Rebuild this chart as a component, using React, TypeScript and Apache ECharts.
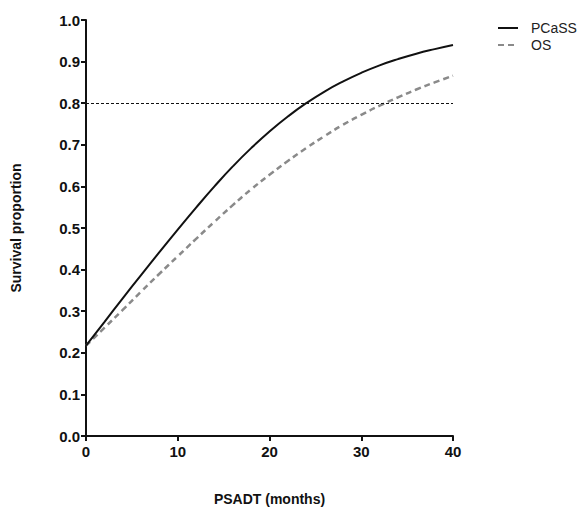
import React, { useEffect, useRef } from "react";
import * as echarts from "echarts";

const months = [0, 2, 4, 6, 8, 10, 12, 14, 16, 18, 20, 22, 24, 26, 28, 30, 32, 34, 36, 38, 40];
const pcass = [0.217, 0.274, 0.331, 0.387, 0.442, 0.496, 0.549, 0.6, 0.648, 0.692, 0.732, 0.768, 0.8, 0.828, 0.852, 0.873, 0.891, 0.906, 0.919, 0.93, 0.94];
const os = [0.217, 0.26, 0.303, 0.347, 0.39, 0.432, 0.474, 0.515, 0.555, 0.593, 0.628, 0.661, 0.692, 0.721, 0.748, 0.772, 0.794, 0.814, 0.833, 0.85, 0.866];
const refLevel = 0.8;
const seriesNames = ["PCaSS", "OS"];
const xTitle = "PSADT (months)";
const yTitle = "Survival proportion";

const FONT = "Liberation Sans, Arial, sans-serif";

export default function App() {
  const ref = useRef<HTMLDivElement>(null);
  useEffect(() => {
    if (!ref.current) return;
    const chart = echarts.init(ref.current, undefined, { renderer: "svg" });
    chart.setOption({
      animation: false,
      textStyle: { fontFamily: FONT },
      grid: { left: 86, right: 131, top: 20, bottom: 75 },
      legend: {
        orient: "vertical",
        left: 497,
        top: 16,
        padding: [5, 5, 5, 0],
        itemWidth: 20,
        itemHeight: 10,
        itemGap: 3,
        data: seriesNames,
        itemStyle: { opacity: 0 },
        textStyle: { fontFamily: FONT, fontSize: 14, color: "#222", padding: [0, 0, 0, 8] },
      },
      xAxis: {
        type: "value",
        min: 0,
        max: 40,
        interval: 10,
        name: xTitle,
        nameLocation: "middle",
        nameGap: 56,
        nameTextStyle: { fontFamily: FONT, fontWeight: "bold", fontSize: 14, color: "#111" },
        axisLine: { lineStyle: { color: "#111", width: 2 } },
        axisTick: { show: true, length: 5, lineStyle: { color: "#111", width: 2 } },
        axisLabel: { fontFamily: FONT, fontWeight: "bold", fontSize: 15, color: "#111", margin: 8 },
        splitLine: { show: false },
      },
      yAxis: {
        type: "value",
        min: 0,
        max: 1,
        interval: 0.1,
        name: yTitle,
        nameLocation: "middle",
        nameGap: 63,
        nameRotate: 90,
        nameTextStyle: { fontFamily: FONT, fontWeight: "bold", fontSize: 14, color: "#111" },
        axisLine: { show: true, lineStyle: { color: "#111", width: 2 } },
        axisTick: { show: true, length: 5, lineStyle: { color: "#111", width: 2 } },
        axisLabel: {
          fontFamily: FONT,
          fontWeight: "bold",
          fontSize: 15,
          color: "#111",
          margin: 6,
          formatter: (v: number) => v.toFixed(1),
        },
        splitLine: { show: false },
      },
      series: [
        {
          name: seriesNames[0],
          type: "line",
          smooth: true,
          symbol: "none",
          data: months.map((m, i) => [m, pcass[i]]),
          lineStyle: { color: "#111", width: 2 },
          itemStyle: { color: "#111" },
          z: 3,
          markLine: {
            silent: true,
            symbol: "none",
            label: { show: false },
            lineStyle: { color: "#111", width: 1, type: [3, 2] },
            data: [{ yAxis: refLevel }],
          },
        },
        {
          name: seriesNames[1],
          type: "line",
          smooth: true,
          symbol: "none",
          data: months.map((m, i) => [m, os[i]]),
          lineStyle: { color: "#8a8a8a", width: 2.5, type: [6, 4] },
          itemStyle: { color: "#8a8a8a" },
          z: 2,
        },
      ],
    });
    return () => chart.dispose();
  }, []);
  return <div ref={ref} style={{ width: 584, height: 511, position: "absolute", left: 0, top: 0 }} />;
}
